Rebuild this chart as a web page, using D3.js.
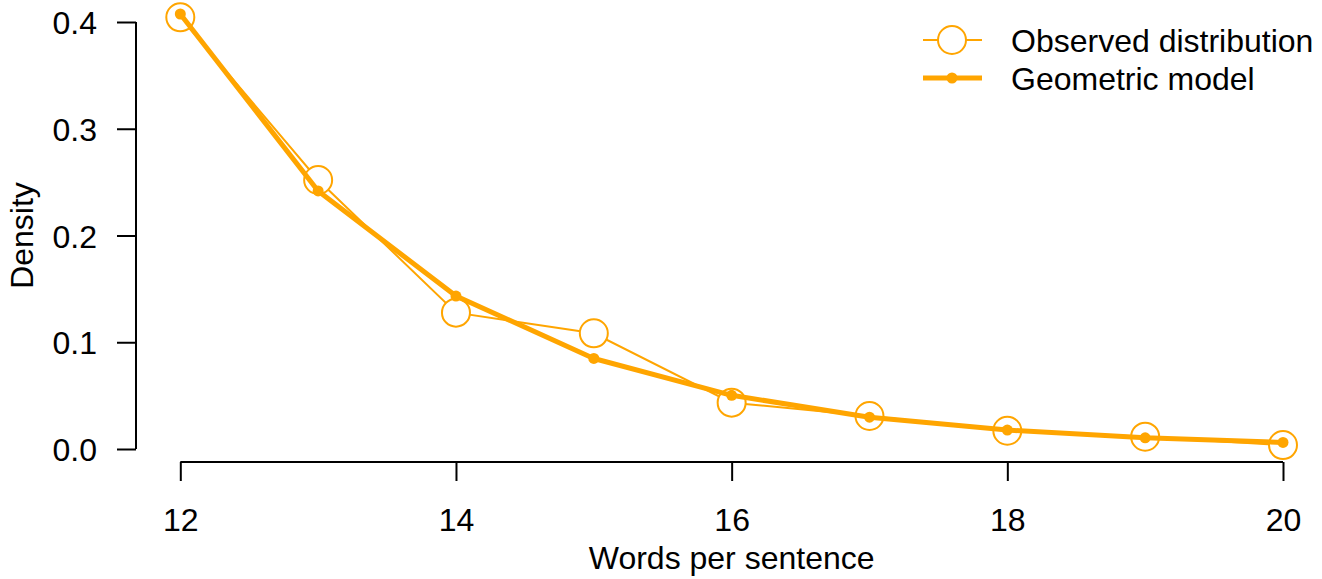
<!DOCTYPE html>
<html>
<head>
<meta charset="utf-8">
<script src="https://cdn.jsdelivr.net/npm/d3@7"></script>
<style>
  html, body { margin: 0; padding: 0; background: #fff; }
  svg { display: block; font-family: "Liberation Sans", Arial, sans-serif; }
</style>
</head>
<body>
<div id="chart"></div>
<script>
const words = [12, 13, 14, 15, 16, 17, 18, 19, 20];
const observed = [0.4044, 0.252, 0.1277, 0.1084, 0.0434, 0.0309, 0.0171, 0.0115, 0.0037];
const geometric = [0.4075, 0.2417, 0.1433, 0.0848, 0.0503, 0.0298, 0.0177, 0.0105, 0.0062];
const xTicks = [12, 14, 16, 18, 20];
const yTicks = [0, 0.1, 0.2, 0.3, 0.4];
const legendItems = ['Observed distribution', 'Geometric model'];

const width = 1322, height = 579;
const color = '#FFA500';
const fontSize = 32;

const svg = d3.select('#chart').append('svg')
  .attr('width', width)
  .attr('height', height);

const x = d3.scaleLinear().domain([12, 20]).range([180.3, 1283]);
const y = d3.scaleLinear().domain([0, 0.4]).range([449, 22]);

// axes, R style: detached from the plot region
const yAxis = svg.append('g').attr('transform', 'translate(136,0)')
  .call(d3.axisLeft(y).tickValues(yTicks).tickFormat(d3.format('.1f')).tickSize(19).tickPadding(20));
const xAxis = svg.append('g').attr('transform', 'translate(0,462)')
  .call(d3.axisBottom(x).tickValues(xTicks).tickFormat(d3.format('d')).tickSize(19).tickPadding(27));

[yAxis, xAxis].forEach((g) => {
  g.select('.domain').attr('stroke', '#000').attr('stroke-width', 2)
    .attr('d', g === yAxis
      ? `M0,${y(0)}V${y(0.4)}`
      : `M${x(12)},0H${x(20)}`);
  g.selectAll('.tick line').attr('stroke', '#000').attr('stroke-width', 2);
  g.selectAll('.tick text').attr('font-size', fontSize).attr('fill', '#000')
    .attr('font-family', '"Liberation Sans", Arial, sans-serif');
});
yAxis.selectAll('.tick text').attr('dy', '0.36em');

// axis titles
svg.append('text')
  .attr('x', x(16)).attr('y', 569)
  .attr('text-anchor', 'middle').attr('font-size', fontSize)
  .text('Words per sentence');
svg.append('text')
  .attr('transform', `translate(33,${y(0.2)}) rotate(-90)`)
  .attr('text-anchor', 'middle').attr('font-size', fontSize)
  .text('Density');

const line = d3.line().x((d) => x(d[0])).y((d) => y(d[1]));

// observed: thin line with open circles
svg.append('path')
  .attr('d', line(words.map((w, i) => [w, observed[i]])))
  .attr('fill', 'none').attr('stroke', color).attr('stroke-width', 2);
svg.append('g').selectAll('circle')
  .data(words.map((w, i) => [w, observed[i]]))
  .join('circle')
  .attr('cx', (d) => x(d[0])).attr('cy', (d) => y(d[1]))
  .attr('r', 14).attr('fill', '#fff').attr('stroke', color).attr('stroke-width', 2);

// geometric: thick line with solid dots
svg.append('path')
  .attr('d', line(words.map((w, i) => [w, geometric[i]])))
  .attr('fill', 'none').attr('stroke', color).attr('stroke-width', 5)
  .attr('stroke-linejoin', 'round');
svg.append('g').selectAll('circle')
  .data(words.map((w, i) => [w, geometric[i]]))
  .join('circle')
  .attr('cx', (d) => x(d[0])).attr('cy', (d) => y(d[1]))
  .attr('r', 5.5).attr('fill', color);

// legend
const legend = svg.append('g');
legendItems.forEach((label, i) => {
  const ly = 40 + i * 38;
  const g = legend.append('g');
  g.append('line').attr('x1', 923).attr('x2', 982).attr('y1', ly).attr('y2', ly)
    .attr('stroke', color).attr('stroke-width', i === 0 ? 2 : 5);
  if (i === 0) {
    g.append('circle').attr('cx', 952).attr('cy', ly).attr('r', 14)
      .attr('fill', '#fff').attr('stroke', color).attr('stroke-width', 2);
  } else {
    g.append('circle').attr('cx', 952).attr('cy', ly).attr('r', 5.5).attr('fill', color);
  }
  g.append('text').attr('x', 1011).attr('y', ly).attr('dy', '0.36em')
    .attr('font-size', fontSize).text(label);
});
</script>
</body>
</html>
